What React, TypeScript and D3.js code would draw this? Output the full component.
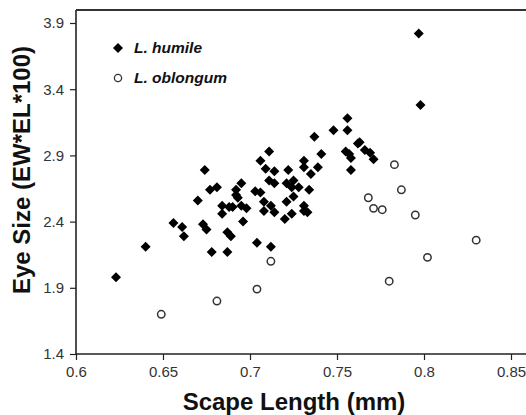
import React, { useEffect, useRef } from 'react';
import * as d3 from 'd3';

// L. humile (filled diamonds): scape length, eye size
const humileX = [
  0.623, 0.640, 0.656, 0.661, 0.662, 0.670, 0.673, 0.675, 0.677, 0.681,
  0.678, 0.687, 0.689, 0.687, 0.684, 0.684, 0.688, 0.690, 0.692, 0.692,
  0.693, 0.695, 0.695, 0.698, 0.696, 0.703, 0.706, 0.708, 0.708, 0.704,
  0.712, 0.712, 0.714, 0.711, 0.714, 0.721, 0.720, 0.724, 0.725, 0.721,
  0.724, 0.725, 0.728, 0.734, 0.731, 0.733, 0.731, 0.674, 0.711, 0.706,
  0.709, 0.714, 0.722, 0.731, 0.731, 0.735, 0.739, 0.741, 0.737, 0.748,
  0.756, 0.756, 0.763, 0.762, 0.766, 0.769, 0.771, 0.755, 0.757, 0.758,
  0.758, 0.797, 0.798,
];
const humileY = [
  1.98, 2.21, 2.39, 2.36, 2.29, 2.56, 2.38, 2.34, 2.64, 2.66,
  2.17, 2.32, 2.29, 2.17, 2.52, 2.46, 2.51, 2.51, 2.64, 2.60,
  2.58, 2.69, 2.52, 2.50, 2.40, 2.63, 2.62, 2.55, 2.48, 2.24,
  2.21, 2.52, 2.47, 2.71, 2.69, 2.55, 2.42, 2.46, 2.59, 2.69,
  2.66, 2.71, 2.66, 2.64, 2.52, 2.47, 2.48, 2.79, 2.93, 2.86,
  2.80, 2.78, 2.79, 2.86, 2.81, 2.76, 2.81, 2.91, 3.04, 3.09,
  3.09, 3.18, 3.00, 2.99, 2.94, 2.92, 2.87, 2.93, 2.91, 2.88,
  2.79, 3.82, 3.28,
];

// L. oblongum (open circles)
const oblongumX = [0.649, 0.681, 0.704, 0.712, 0.783, 0.787, 0.768, 0.771, 0.776, 0.795, 0.830, 0.802, 0.780];
const oblongumY = [1.70, 1.80, 1.89, 2.10, 2.83, 2.64, 2.58, 2.50, 2.49, 2.45, 2.26, 2.13, 1.95];

const xTicks = [0.6, 0.65, 0.7, 0.75, 0.8, 0.85];
const yTicks = [1.4, 1.9, 2.4, 2.9, 3.4, 3.9];
const seriesNames = ['L. humile', 'L. oblongum'];

const W = 526;
const H = 415;

const App = () => {
  const svgRef = useRef<SVGSVGElement>(null);

  useEffect(() => {
    const svg = d3.select(svgRef.current);
    svg.selectAll('*').remove();

    const x = d3.scaleLinear().domain([0.6, 0.85]).range([76, 511]);
    const y = d3.scaleLinear().domain([1.4, 3.9]).range([354, 23]);
    const left = x(0.6);
    const bottom = y(1.4);
    const top = y(3.9) - 13;

    svg.append('rect').attr('width', W).attr('height', H).attr('fill', '#fff');

    // frame top line
    svg.append('line')
      .attr('x1', left).attr('x2', W)
      .attr('y1', top).attr('y2', top)
      .attr('stroke', '#333').attr('stroke-width', 2);

    // X axis
    const gx = svg.append('g')
      .attr('transform', `translate(0,${bottom})`)
      .call(d3.axisBottom(x).tickValues(xTicks).tickSize(6).tickPadding(6)
        .tickFormat(d => String(d)));
    gx.select('.domain').remove();
    gx.append('line').attr('x1', left).attr('x2', W)
      .attr('stroke', '#222').attr('stroke-width', 1.6);

    // Y axis
    const gy = svg.append('g')
      .attr('transform', `translate(${left},0)`)
      .call(d3.axisLeft(y).tickValues(yTicks).tickSize(6).tickPadding(6)
        .tickFormat(d => String(d)));
    gy.select('.domain').remove();
    gy.append('line').attr('y1', top).attr('y2', bottom)
      .attr('stroke', '#222').attr('stroke-width', 1.6);

    [gx, gy].forEach(g => {
      g.selectAll('.tick line').attr('stroke', '#222').attr('stroke-width', 1.2);
      g.selectAll('.tick text')
        .attr('fill', '#333')
        .style('font-family', 'Liberation Sans, Arial, sans-serif')
        .style('font-size', '15px');
    });

    // diamonds
    const diamond = d3.symbol().type(d3.symbolSquare).size(50);
    svg.append('g').selectAll('path')
      .data(humileX.map((v, i) => [v, humileY[i]]))
      .join('path')
      .attr('d', diamond)
      .attr('transform', d => `translate(${x(d[0])},${y(d[1])}) rotate(45)`)
      .attr('fill', '#000');

    // circles
    svg.append('g').selectAll('circle')
      .data(oblongumX.map((v, i) => [v, oblongumY[i]]))
      .join('circle')
      .attr('cx', d => x(d[0]))
      .attr('cy', d => y(d[1]))
      .attr('r', 3.7)
      .attr('fill', '#fff')
      .attr('stroke', '#333')
      .attr('stroke-width', 1.5);

    // legend
    const lg = svg.append('g');
    lg.append('path').attr('d', diamond)
      .attr('transform', 'translate(118,48) rotate(45)').attr('fill', '#000');
    lg.append('circle').attr('cx', 118).attr('cy', 78).attr('r', 3.6)
      .attr('fill', '#fff').attr('stroke', '#333').attr('stroke-width', 1.3);
    seriesNames.forEach((name, i) => {
      lg.append('text')
        .attr('x', 134).attr('y', 48 + i * 30)
        .attr('dy', '0.35em')
        .style('font-family', 'Liberation Sans, Arial, sans-serif')
        .style('font-size', '15.5px')
        .style('font-weight', 'bold')
        .style('font-style', 'italic')
        .attr('fill', '#111')
        .text(name);
    });

    // axis titles
    svg.append('text')
      .attr('x', 294).attr('y', 410)
      .attr('text-anchor', 'middle')
      .style('font-family', 'Liberation Sans, Arial, sans-serif')
      .style('font-size', '24px')
      .style('font-weight', 'bold')
      .attr('fill', '#111')
      .text('Scape Length (mm)');

    svg.append('text')
      .attr('transform', 'rotate(-90)')
      .attr('x', -170).attr('y', 30)
      .attr('text-anchor', 'middle')
      .style('font-family', 'Liberation Sans, Arial, sans-serif')
      .style('font-size', '24px')
      .style('font-weight', 'bold')
      .attr('fill', '#111')
      .text('Eye Size (EW*EL*100)');
  }, []);

  return (
    <svg ref={svgRef} width={W} height={H}
      style={{ position: 'absolute', left: 0, top: 0, display: 'block' }} />
  );
};

export default App;
